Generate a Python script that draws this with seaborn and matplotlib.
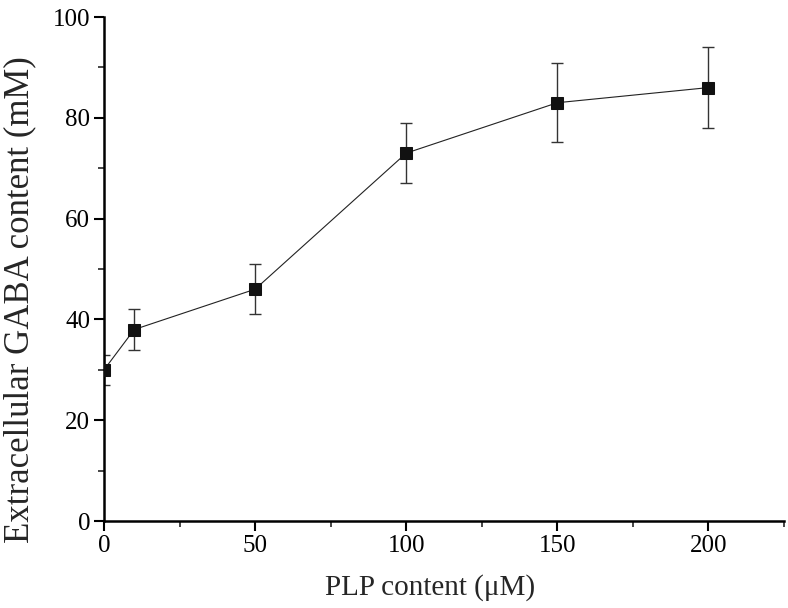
import matplotlib
matplotlib.use('Agg')
import matplotlib.pyplot as plt
import pandas as pd
import seaborn as sns
from matplotlib.ticker import MultipleLocator

plp = [0, 10, 50, 100, 150, 200]
gaba = [30, 38, 46, 73, 83, 86]
err = [3, 4, 5, 6, 7.8, 8]

df = pd.DataFrame({'plp': plp, 'gaba': gaba, 'err': err})

sns.set_style('ticks')
plt.rcParams['font.family'] = ['Liberation Serif', 'DejaVu Serif']

fig = plt.figure(figsize=(7.88, 6.08), dpi=100)
ax = fig.add_axes([0.132, 0.143, 0.863, 0.829])

ax.errorbar(df['plp'], df['gaba'], yerr=df['err'], fmt='none', ecolor='#333333',
            elinewidth=1.0, capsize=4.5, capthick=1.0, zorder=2)
sns.lineplot(data=df, x='plp', y='gaba', ax=ax, color='#222222', linewidth=0.8,
             marker='s', markersize=8, markerfacecolor='#111111',
             markeredgecolor='#111111', zorder=3)

ax.set_xlim(0, 225)
ax.set_ylim(0, 100)
ax.xaxis.set_major_locator(MultipleLocator(50))
ax.xaxis.set_minor_locator(MultipleLocator(25))
ax.yaxis.set_major_locator(MultipleLocator(20))
ax.yaxis.set_minor_locator(MultipleLocator(10))
ax.tick_params(which='major', direction='out', length=7, width=1.5, labelsize=18,
               colors='black', pad=3)
ax.tick_params(which='minor', direction='out', length=4, width=1.2)
for s in ['left', 'bottom']:
    ax.spines[s].set_linewidth(1.8)
    ax.spines[s].set_color('black')
sns.despine(ax=ax)

ax.set_xlabel('PLP content (\u03bcM)', fontsize=21)
ax.set_ylabel('Extracellular GABA content (mM)', fontsize=25)
ax.xaxis.set_label_coords(0.48, -0.105)
ax.yaxis.set_label_coords(-0.1, 0.44)

fig.savefig('out.png', dpi=100)
